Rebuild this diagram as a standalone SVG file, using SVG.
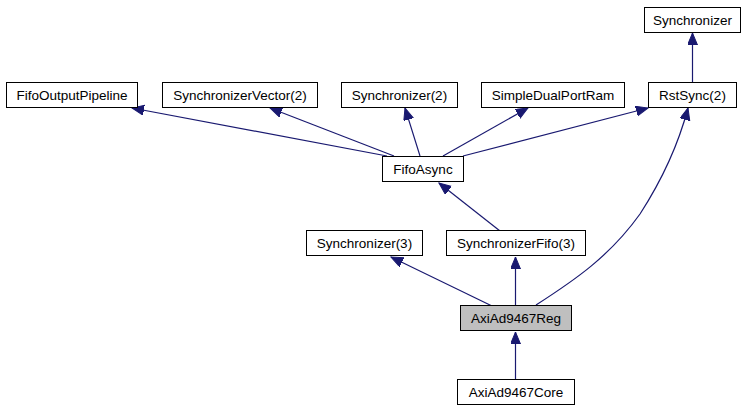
<svg xmlns="http://www.w3.org/2000/svg" width="748" height="411" viewBox="0 0 748 411">
<style>
.box{fill:#ffffff;stroke:#000000;stroke-width:1}
.cur{fill:#bfbfbf;stroke:#000000;stroke-width:1}
.lbl{font-family:"Liberation Sans",Arial,sans-serif;font-size:13.5px;fill:#000000;text-anchor:middle}
.edge{fill:none;stroke:#191970;stroke-width:1.2;marker-end:url(#arr)}
</style>
<defs>
<marker id="arr" markerUnits="userSpaceOnUse" markerWidth="14" markerHeight="12" refX="12" refY="5" orient="auto">
<path d="M0,0 L12,5 L0,10 z" fill="#191970" stroke="#191970" stroke-width="1"/>
</marker>
</defs>
<rect width="748" height="411" fill="#ffffff"/>
<g id="edges">
<path class="edge" d="M387,156 L132,108"/>
<path class="edge" d="M394,156 L270,108"/>
<path class="edge" d="M420,156 L405,108"/>
<path class="edge" d="M443,156 L528,108"/>
<path class="edge" d="M463,156 L648,108"/>
<path class="edge" d="M536,305 C575,280 610,256 640,214 C662,180 679,142 688,108"/>
<path class="edge" d="M500,231 L439,183"/>
<path class="edge" d="M492,306 L391,257"/>
<path class="edge" d="M515.5,305 L515.5,257"/>
<path class="edge" d="M515.5,379 L515.5,332"/>
<path class="edge" d="M692.5,82 L692.5,33"/>
</g>
<g id="n-synchronizer"><rect class="box" x="644.5" y="7.5" width="96" height="25"/><text class="lbl" x="692.5" y="24.5">Synchronizer</text></g>
<g id="n-fifooutputpipeline"><rect class="box" x="6.5" y="82.5" width="131" height="25"/><text class="lbl" x="72" y="99.5">FifoOutputPipeline</text></g>
<g id="n-synchronizervector2"><rect class="box" x="162.5" y="82.5" width="155" height="25"/><text class="lbl" x="240" y="99.5">SynchronizerVector(2)</text></g>
<g id="n-synchronizer2"><rect class="box" x="341.5" y="82.5" width="116" height="25"/><text class="lbl" x="399.5" y="99.5">Synchronizer(2)</text></g>
<g id="n-simpledualportram"><rect class="box" x="481.5" y="82.5" width="143" height="25"/><text class="lbl" x="553" y="99.5">SimpleDualPortRam</text></g>
<g id="n-rstsync2"><rect class="box" x="648.5" y="82.5" width="88" height="25"/><text class="lbl" x="692.5" y="99.5">RstSync(2)</text></g>
<g id="n-fifoasync"><rect class="box" x="382.5" y="156.5" width="81" height="25"/><text class="lbl" x="423" y="173.5">FifoAsync</text></g>
<g id="n-synchronizer3"><rect class="box" x="306.5" y="230.5" width="116" height="25"/><text class="lbl" x="364.5" y="247.5">Synchronizer(3)</text></g>
<g id="n-synchronizerfifo3"><rect class="box" x="446.5" y="230.5" width="139" height="25"/><text class="lbl" x="516" y="247.5">SynchronizerFifo(3)</text></g>
<g id="n-axiad9467reg"><rect class="cur" x="460.5" y="305.5" width="111" height="25"/><text class="lbl" x="516" y="322.5">AxiAd9467Reg</text></g>
<g id="n-axiad9467core"><rect class="box" x="457.5" y="379.5" width="117" height="25"/><text class="lbl" x="516" y="396.5">AxiAd9467Core</text></g>
</svg>
